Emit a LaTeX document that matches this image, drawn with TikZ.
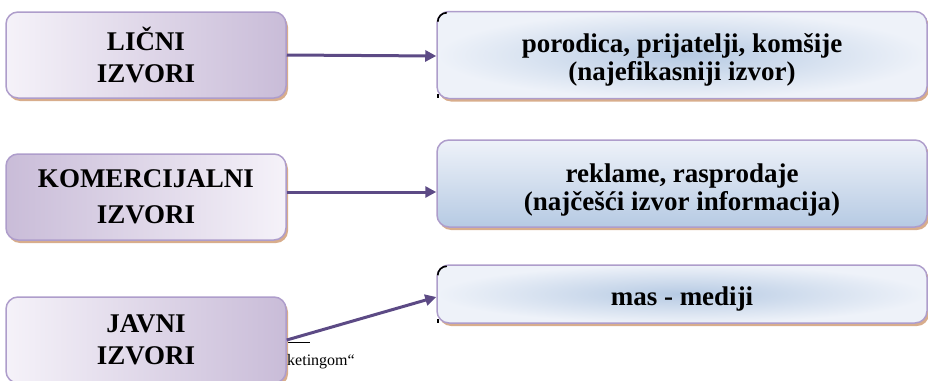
\documentclass[tikz,border=0pt]{standalone}
\usepackage{fontspec}
\setmainfont{Liberation Serif}
\usetikzlibrary{arrows.meta,shadows}
\definecolor{lilac}{HTML}{C9BCD8}
\definecolor{lilacpale}{HTML}{F5F2F9}
\definecolor{lilacedge}{HTML}{AE9DCB}
\definecolor{skyblue}{HTML}{B6CAE3}
\definecolor{skypale}{HTML}{EEF2F9}
\definecolor{tanshadow}{HTML}{D8AD8C}
\definecolor{arrowpurple}{HTML}{5C4A85}
\tikzset{
  srcbox/.style={draw=lilacedge, line width=1.5pt, rounded corners=12pt,
    minimum width=280pt, minimum height=86pt, align=center,
    font=\fontsize{27}{32}\selectfont\bfseries,
    drop shadow={shadow xshift=2pt, shadow yshift=-3pt, fill=tanshadow, opacity=1}},
  infobox/.style={draw=lilacedge, line width=1.5pt, rounded corners=12pt,
    minimum width=490pt,
    drop shadow={shadow xshift=2pt, shadow yshift=-3pt, fill=tanshadow, opacity=1}},
  infotext/.style={align=center, inner sep=0pt, font=\fontsize{27}{28}\selectfont\bfseries},
  link/.style={arrowpurple, line width=3pt, -{Triangle[length=11pt,width=11pt]}},
  nick/.style={black, line width=1.6pt}
}
\begin{document}
\begin{tikzpicture}[x=1pt,y=-1pt]
\useasboundingbox (0,0) rectangle (928,380);
\clip (0,0) rectangle (928,380);
% footnote remnant behind the boxes
\draw[line width=0.8pt] (284,342) -- (310,342);
% sources
\node[srcbox, left color=lilacpale, right color=lilac] (licni) at (146,55) {LIČNI\\IZVORI};
\node[srcbox, left color=lilac, right color=lilacpale, font=\fontsize{27}{36}\selectfont\bfseries] (komerc) at (146,197) {KOMERCIJALNI\\IZVORI};
\node[srcbox, left color=lilacpale, right color=lilac] (javni) at (146,340) {JAVNI\\IZVORI};
\node[anchor=base west, inner sep=0pt, font=\fontsize{16}{18}\selectfont] (fusnota) at (287,365) {ketingom“};
% information
\node[infobox, minimum height=87pt, inner color=skyblue, outer color=skypale] (porod) at (682,55) {};
\node[infotext] (porodtxt) at ([yshift=-5pt]porod.center) {porodica, prijatelji, komšije\\(najefikasniji izvor)};
\node[infobox, minimum height=87pt, top color=skypale, bottom color=skyblue] (reklame) at (682,183.5) {};
\node[infotext] (reklametxt) at ([yshift=-7pt]reklame.center) {reklame, rasprodaje\\(najčešći izvor informacija)};
\node[infobox, minimum height=58pt, inner color=skyblue, outer color=skypale] (medij) at (682,294) {};
\node[infotext] (medijtxt) at ([yshift=-5pt]medij.center) {mas - mediji};
% black nicks on the left corners
\draw[nick] ([xshift=1.5pt,yshift=-11pt]porod.north west) arc (180:90:9pt);
\draw[nick] ([xshift=2pt,yshift=5pt]porod.south west) -- ++(0,4);
\draw[nick] ([xshift=1.5pt,yshift=-11pt]medij.north west) arc (180:90:9pt);
\draw[nick] ([xshift=2pt,yshift=5pt]medij.south west) -- ++(0,4);
% connectors
\draw[link] (licni.east) -- ([yshift=-1pt]porod.west);
\draw[link] ([yshift=5pt]komerc.east) -- ([yshift=-8.5pt]reklame.west);
\draw[link] (javni.east) -- ([yshift=-3pt]medij.west);
\end{tikzpicture}
\end{document}
